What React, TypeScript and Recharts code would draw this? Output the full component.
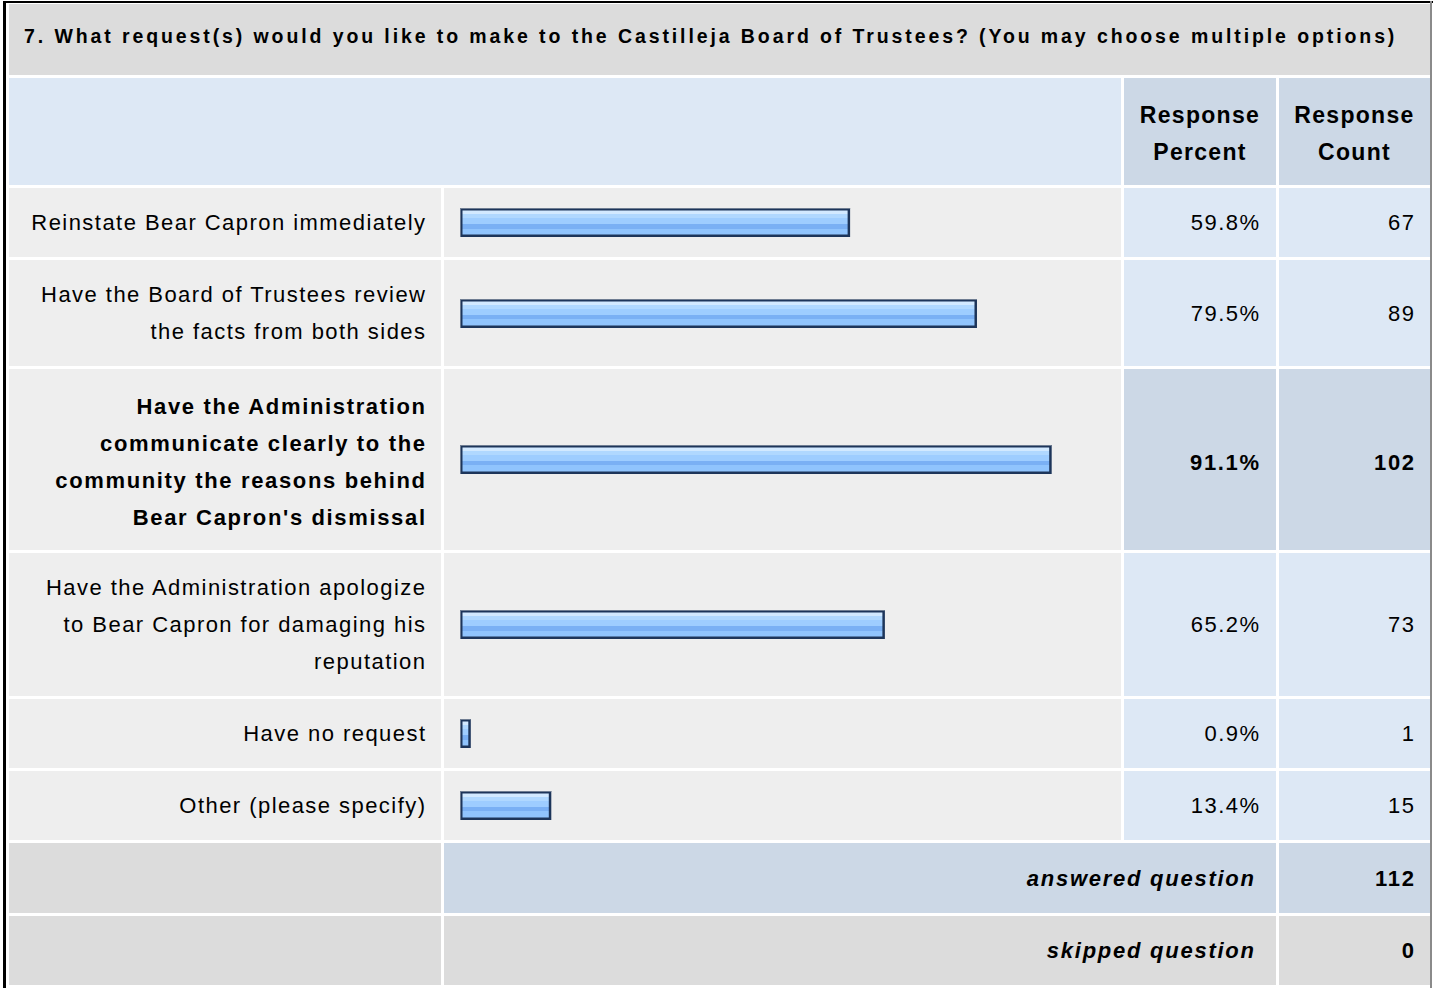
import { BarChart, Bar, XAxis, YAxis } from "recharts";

// question text and answer data
const questionTitle =
  "7. What request(s) would you like to make to the Castilleja Board of Trustees? (You may choose multiple options)";
const headerLabels = ["Response\nPercent", "Response\nCount"];
const answerChoices = [
  "Reinstate Bear Capron immediately",
  "Have the Board of Trustees review\nthe facts from both sides",
  "Have the Administration\ncommunicate clearly to the\ncommunity the reasons behind\nBear Capron's dismissal",
  "Have the Administration apologize\nto Bear Capron for damaging his\nreputation",
  "Have no request",
  "Other (please specify)",
];
const responsePercent = [59.8, 79.5, 91.1, 65.2, 0.9, 13.4];
const responseCount = [67, 89, 102, 73, 1, 15];
const summaryLabels = ["answered question", "skipped question"];
const summaryCounts = [112, 0];

// layout
const FONT = "'Liberation Sans', Arial, Helvetica, sans-serif";
const ROW_H = [69, 106, 181, 143, 69, 69];
const COLS = [432, 677, 152, 151];
const GAP = 3;
const CHART_W = COLS[1];

const GREY = "#dcdcdc";
const LIGHT = "#eeeeee";
const BLUE = "#dde8f5";
const BLUE_DK = "#ccd8e6";

const peak = Math.max(...responsePercent);

function GlossyBar(props: any) {
  const { x, y, width, height, gradId } = props;
  const w = Math.max(width, 0) + 5;
  return (
    <g>
      <rect x={x} y={y} width={w} height={height} fill="#1d355a" />
      <line x1={x + 0.5} y1={y} x2={x + 0.5} y2={y + height} stroke="#6f7d92" strokeWidth={1} />
      <line x1={x} y1={y + 0.5} x2={x + w} y2={y + 0.5} stroke="#6f7d92" strokeWidth={1} />
      <rect x={x + 2.5} y={y + 2.5} width={Math.max(w - 5, 1)} height={height - 5} fill={`url(#${gradId})`} />
    </g>
  );
}

function RowBar({ idx, height }: { idx: number; height: number }) {
  const gradId = `barGlass${idx}`;
  const data = [{ name: answerChoices[idx], value: responsePercent[idx] }];
  return (
    <BarChart
      width={CHART_W}
      height={height}
      data={data}
      layout="vertical"
      margin={{ top: 0, right: 17, bottom: 0, left: 16 }}
    >
      <defs>
        <linearGradient id={gradId} x1="0" y1="0" x2="0" y2="1">
          <stop offset="0" stopColor="#d2e9ff" />
          <stop offset="0.13" stopColor="#d2e9ff" />
          <stop offset="0.13" stopColor="#b0d8ff" />
          <stop offset="0.3" stopColor="#b0d8ff" />
          <stop offset="0.3" stopColor="#9ecdff" />
          <stop offset="0.55" stopColor="#9ecdff" />
          <stop offset="0.55" stopColor="#7ab0f4" />
          <stop offset="0.75" stopColor="#7ab0f4" />
          <stop offset="0.75" stopColor="#90c4fd" />
          <stop offset="1" stopColor="#90c4fd" />
        </linearGradient>
      </defs>
      <XAxis type="number" domain={[0, 100]} hide />
      <YAxis type="category" dataKey="name" hide />
      <Bar
        dataKey="value"
        barSize={29}
        isAnimationActive={false}
        shape={(p: any) => <GlossyBar {...p} gradId={gradId} />}
      />
    </BarChart>
  );
}

const cell = (bg: string, extra: React.CSSProperties = {}): React.CSSProperties => ({
  background: bg,
  display: "flex",
  alignItems: "center",
  boxSizing: "border-box",
  ...extra,
});

const bodyText: React.CSSProperties = {
  fontSize: 22,
  letterSpacing: 1.45,
  lineHeight: "37px",
  whiteSpace: "pre-line",
  color: "#000",
};

export default function App() {
  const rowTemplate = [71, 107, ...ROW_H, 70, 69].map((h) => `${h}px`).join(" ");
  return (
    <div
      style={{
        position: "absolute",
        left: 0,
        top: 0,
        width: 1434,
        height: 988,
        overflow: "hidden",
        background: "#fff",
        fontFamily: FONT,
      }}
    >
      {/* outer frame */}
      <div style={{ position: "absolute", left: 3, top: 1, width: 1430, height: 2, background: "#000" }} />
      <div style={{ position: "absolute", left: 3, top: 1, width: 3, height: 990, background: "#000" }} />
      <div style={{ position: "absolute", left: 1430, top: 1, width: 2, height: 990, background: "#8a8a8a" }} />

      <div
        style={{
          position: "absolute",
          left: 9,
          top: 4,
          display: "grid",
          gridTemplateColumns: COLS.map((c) => `${c}px`).join(" "),
          gridTemplateRows: rowTemplate,
          gap: GAP,
        }}
      >
        <div
          style={cell(GREY, {
            gridColumn: "1 / 5",
            paddingLeft: 15,
            paddingBottom: 6,
            fontSize: 19.5,
            fontWeight: 700,
            letterSpacing: 2.9,
            whiteSpace: "nowrap",
          })}
        >
          {questionTitle}
        </div>

        <div style={cell(BLUE, { gridColumn: "1 / 3" })} />
        {headerLabels.map((h) => (
          <div
            key={h}
            style={cell(BLUE_DK, {
              justifyContent: "center",
              textAlign: "center",
              paddingTop: 5,
              fontSize: 23,
              fontWeight: 700,
              letterSpacing: 1.3,
              lineHeight: "37px",
              whiteSpace: "pre-line",
            })}
          >
            {h}
          </div>
        ))}

        {answerChoices.map((label, i) => {
          const hi = responsePercent[i] === peak;
          const weight = hi ? 700 : 400;
          const ls = hi ? 1.65 : 1.45;
          const nudge = hi ? 5 : 0;
          return [
            <div
              key={`l${i}`}
              style={cell(LIGHT, {
                ...bodyText,
                justifyContent: "flex-end",
                textAlign: "right",
                paddingRight: 16 - ls,
                paddingTop: nudge,
                fontWeight: weight,
                letterSpacing: ls,
              })}
            >
              {label}
            </div>,
            <div key={`c${i}`} style={cell(LIGHT)}>
              <RowBar idx={i} height={ROW_H[i]} />
            </div>,
            <div
              key={`p${i}`}
              style={cell(hi ? BLUE_DK : BLUE, {
                ...bodyText,
                justifyContent: "flex-end",
                paddingRight: 17 - ls,
                paddingTop: nudge,
                fontWeight: weight,
                letterSpacing: ls,
              })}
            >
              {`${responsePercent[i].toFixed(1)}%`}
            </div>,
            <div
              key={`n${i}`}
              style={cell(hi ? BLUE_DK : BLUE, {
                ...bodyText,
                justifyContent: "flex-end",
                paddingRight: 16 - ls,
                paddingTop: nudge,
                fontWeight: weight,
                letterSpacing: ls,
              })}
            >
              {responseCount[i]}
            </div>,
          ];
        })}

        {summaryLabels.map((s, i) => {
          const bg = i === 0 ? BLUE_DK : GREY;
          return [
            <div key={`sl${i}`} style={cell(GREY)} />,
            <div
              key={`sm${i}`}
              style={cell(bg, {
                ...bodyText,
                gridColumn: "2 / 4",
                justifyContent: "flex-end",
                paddingRight: 22 - 1.75,
                fontWeight: 700,
                fontStyle: "italic",
                letterSpacing: 1.75,
              })}
            >
              {s}
            </div>,
            <div
              key={`sc${i}`}
              style={cell(bg, {
                ...bodyText,
                justifyContent: "flex-end",
                paddingRight: 16 - 1.75,
                fontWeight: 700,
                letterSpacing: 1.75,
              })}
            >
              {summaryCounts[i]}
            </div>,
          ];
        })}
      </div>
    </div>
  );
}
